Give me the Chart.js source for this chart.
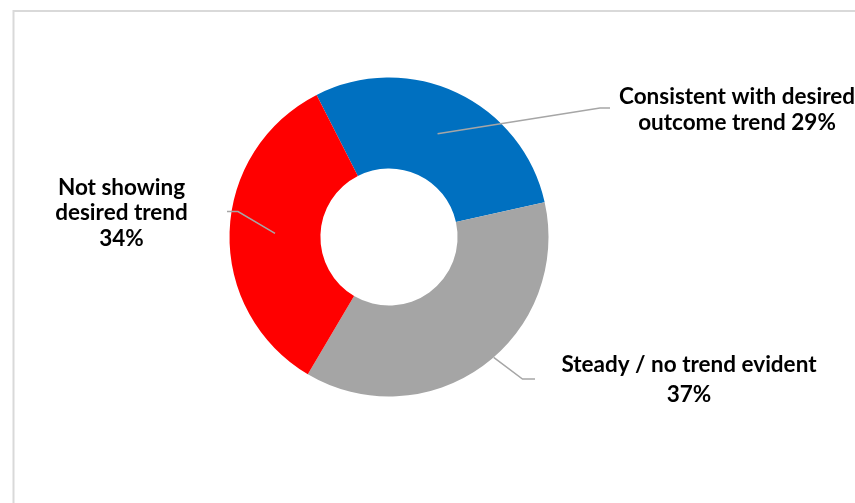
<!DOCTYPE html>
<html>
<head>
<meta charset="utf-8">
<script src="https://cdn.jsdelivr.net/npm/chart.js@4.4.1/dist/chart.umd.min.js"></script>
<style>
  html, body { margin: 0; padding: 0; background: #ffffff; }
  #wrap { position: relative; width: 855px; height: 503px; }
  canvas { display: block; }
</style>
</head>
<body>
<div id="wrap"><canvas id="c" width="855" height="503"></canvas></div>
<script>
// ---- data ----
const categories = ["Consistent with desired outcome trend", "Steady / no trend evident", "Not showing desired trend"];
const values = [29, 37, 34];
const colors = ["#0070C0", "#A5A5A5", "#FF0000"];
// label text lines (category text split as in the original, value appended)
const labelLines = [
  ["Consistent with desired", "outcome trend " + values[0] + "%"],
  ["Steady / no trend evident", values[1] + "%"],
  ["Not showing", "desired trend", values[2] + "%"]
];
// label anchor (centre x, line baselines)
const labelPos = [
  { x: 737, y: [104, 129.5] },
  { x: 689, y: [372, 402] },
  { x: 121.5, y: [194.5, 219.5, 245.5] }
];
// leader line: fraction of ring (0 = inner, 1 = outer), angle shift (deg), elbow & end points
const leaders = [
  { frac: 0.5, dAng: 0, elbow: [600, 108], end: [610, 108] },
  { frac: 1.0, dAng: -5, elbow: [522.5, 379], end: [535, 379] },
  { frac: 0.5, dAng: 0, elbow: [238, 211.5], end: [227, 211.5] }
];

const framePlugin = {
  id: 'frame',
  beforeDraw(chart) {
    const ctx = chart.ctx;
    ctx.save();
    ctx.strokeStyle = '#D9D9D9';
    ctx.lineWidth = 2;
    ctx.beginPath();
    ctx.moveTo(13.5, 503);
    ctx.lineTo(13.5, 11);
    ctx.lineTo(855, 11);
    ctx.stroke();
    ctx.restore();
  }
};

const labelPlugin = {
  id: 'labels',
  afterDatasetsDraw(chart) {
    const ctx = chart.ctx;
    const meta = chart.getDatasetMeta(0);
    ctx.save();
    meta.data.forEach((arc, i) => {
      const p = arc.getProps(['x', 'y', 'startAngle', 'endAngle', 'innerRadius', 'outerRadius'], true);
      const L = leaders[i];
      const mid = (p.startAngle + p.endAngle) / 2 + L.dAng * Math.PI / 180;
      const r = p.innerRadius + (p.outerRadius - p.innerRadius) * L.frac;
      const sx = p.x + Math.cos(mid) * r;
      const sy = p.y + Math.sin(mid) * r;
      ctx.strokeStyle = '#A6A6A6';
      ctx.lineWidth = 1.5;
      ctx.beginPath();
      ctx.moveTo(sx, sy);
      ctx.lineTo(L.elbow[0], L.elbow[1]);
      ctx.lineTo(L.end[0], L.end[1]);
      ctx.stroke();

      ctx.fillStyle = '#000000';
      ctx.font = 'bold 22.5px Lato, "Liberation Sans", sans-serif';
      ctx.textAlign = 'center';
      ctx.textBaseline = 'alphabetic';
      labelLines[i].forEach((t, k) => {
        ctx.fillText(t, labelPos[i].x, labelPos[i].y[k]);
      });
    });
    ctx.restore();
  }
};

new Chart(document.getElementById('c'), {
  type: 'doughnut',
  data: {
    labels: categories,
    datasets: [{
      data: values,
      backgroundColor: colors,
      borderWidth: 0,
      hoverOffset: 0
    }]
  },
  options: {
    responsive: false,
    animation: false,
    rotation: -27,
    cutout: '43%',
    layout: { padding: { left: 229.5, right: 306.5, top: 77.5, bottom: 106.5 } },
    plugins: {
      legend: { display: false },
      tooltip: { enabled: false },
      title: { display: false }
    },
    events: []
  },
  plugins: [framePlugin, labelPlugin]
});
</script>
</body>
</html>
